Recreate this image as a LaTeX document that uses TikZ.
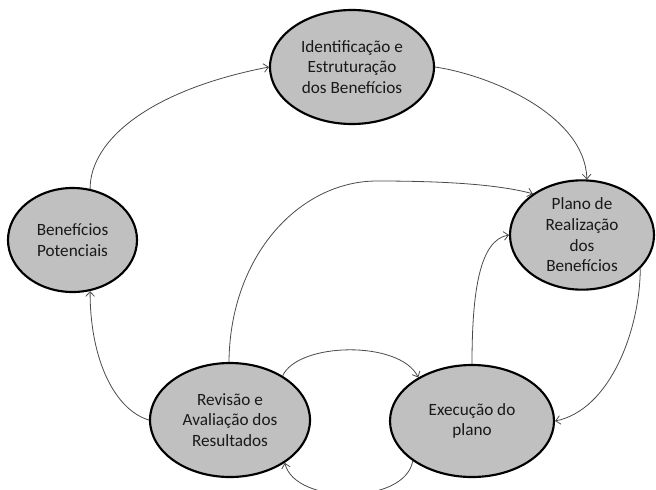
\documentclass[tikz,border=0pt]{standalone}
\usepackage{fontspec}
\setmainfont{Carlito}
\usetikzlibrary{shapes.geometric,arrows.meta}
\definecolor{ellfill}{HTML}{C0C0C0}
\definecolor{linkc}{HTML}{4A4A4A}
\begin{document}
\begin{tikzpicture}[x=0.75pt,y=-0.75pt,
  stage/.style={ellipse,draw=black,line width=1.6pt,fill=ellfill,inner sep=0pt,
    align=center,font=\fontsize{12.9pt}{15.5pt}\selectfont,text=black!90},
  link/.style={draw=linkc,line width=0.6pt,-{Straight Barb[length=3.5pt,width=6.5pt]}}]
\path[use as bounding box] (0,0) rectangle (656,489);
\node[stage,minimum width=123pt,minimum height=85.5pt] (idf) at (352,67) {Identificação e\\Estruturação\\dos Benefícios};
\node[stage,minimum width=96.75pt,minimum height=78pt] (ben) at (72.5,240) {Benefícios\\Potenciais};
\node[stage,minimum width=108pt,minimum height=82pt] (pla) at (582,235) {Plano de\\Realização\\dos\\Benefícios};
\node[stage,minimum width=120pt,minimum height=85.5pt] (rev) at (230,420) {Revisão e\\Avaliação dos\\Resultados};
\node[stage,minimum width=123pt,minimum height=84pt] (exe) at (472,421) {Execução do\\plano};
% connectors
\draw[link] (ben.71) .. controls (90,140) and (150,90) .. (idf.180);
\draw[link] (idf.0) .. controls (490,75) and (585,115) .. (pla.85);
\draw[link] (pla.-30) .. controls (640,330) and (610,410) .. (exe.0);
\draw[link] (exe.90) .. controls (472,290) and (480,240) .. (pla.180);
\draw[link] (rev.91) .. controls (230,255) and (300,181) .. (377,181) .. controls (450,181) and (500,185) .. (pla.140);
\draw[link] (rev.40) .. controls (298,342) and (400,340) .. (exe.141);
\draw[link] (exe.214) .. controls (405,505) and (295,505) .. (rev.322);
\draw[link] (rev.180) .. controls (115,410) and (90,360) .. (ben.-71);
\end{tikzpicture}
\end{document}
